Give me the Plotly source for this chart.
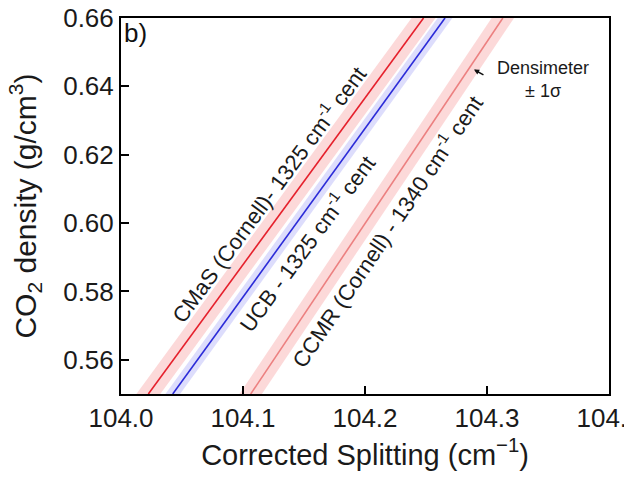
import plotly.graph_objects as go

# Density range spanned by each calibration line (g/cm^3)
density = [0.55, 0.66]

# Corrected splitting (cm^-1) at those densities, one line per instrument
split_cmas = [104.0224, 104.248]
split_ucb = [104.0424, 104.2656]
split_ccmr = [104.1063, 104.313]

# Densimeter +/- 1 sigma, expressed as a splitting offset (cm^-1)
sigma_cmas = 0.0098
sigma_ucb = 0.006
sigma_ccmr = 0.0092

x_ticks = [104.0, 104.1, 104.2, 104.3, 104.4]
y_ticks = [0.56, 0.58, 0.60, 0.62, 0.64, 0.66]

FONT = "Liberation Sans, Arial, sans-serif"

series = [
    ("CMaS", split_cmas, sigma_cmas, "#e5202c", "rgba(245,120,120,0.28)"),
    ("UCB", split_ucb, sigma_ucb, "#2b2bd8", "rgba(120,120,245,0.25)"),
    ("CCMR", split_ccmr, sigma_ccmr, "#ec8080", "rgba(245,120,120,0.28)"),
]

fig = go.Figure()

# shaded +/- 1 sigma bands first, then the centre lines on top
for name, xs, sig, line_col, band_col in series:
    upper = [v + sig for v in xs]
    lower = [v - sig for v in xs]
    fig.add_trace(go.Scatter(
        x=upper + lower[::-1],
        y=density + density[::-1],
        fill="toself", fillcolor=band_col,
        line=dict(width=0), mode="lines",
        hoverinfo="skip", showlegend=False,
    ))
for name, xs, sig, line_col, band_col in series:
    fig.add_trace(go.Scatter(
        x=xs, y=density, mode="lines", name=name,
        line=dict(color=line_col, width=1.6), showlegend=False,
    ))

label_font = dict(family=FONT, size=22, color="#1a1a1a")

annotations = [
    dict(x=104.1205, y=0.6084, text="CMaS (Cornell)- 1325 cm<sup>-1</sup> cent",
         textangle=-53.7, showarrow=False, font=label_font,
         xanchor="center", yanchor="middle"),
    dict(x=104.1516, y=0.5943, text="UCB - 1325 cm<sup>-1</sup> cent",
         textangle=-53.7, showarrow=False, font=label_font,
         xanchor="center", yanchor="middle"),
    dict(x=104.2172, y=0.5978, text="CCMR (Cornell) - 1340 cm<sup>-1</sup> cent",
         textangle=-56, showarrow=False, font=label_font,
         xanchor="center", yanchor="middle"),
    dict(x=104.3459, y=0.642, text="Densimeter<br>± 1σ", showarrow=False,
         font=dict(family=FONT, size=18, color="#1a1a1a"),
         xanchor="center", yanchor="middle", align="center"),
    dict(x=104.2893, y=0.6449, text="", showarrow=True, ax=11, ay=6,
         arrowhead=2, arrowsize=0.7, arrowwidth=1.5, arrowcolor="#111", standoff=0),
    dict(x=0, y=1, xref="paper", yref="paper", text="b)", showarrow=False,
         xanchor="left", yanchor="top", xshift=1, yshift=2,
         font=dict(family=FONT, size=26, color="#111")),
]

axis_common = dict(
    showgrid=False, zeroline=False, showline=True, linecolor="black",
    linewidth=2, mirror=True, ticks="inside", ticklen=8, tickwidth=2,
    tickcolor="black", automargin=False, ticklabeloverflow="allow",
    tickfont=dict(family=FONT, size=26, color="#1a1a1a"),
)

fig.update_layout(
    width=624, height=479,
    margin=dict(l=121, r=15, t=18, b=85),
    plot_bgcolor="white", paper_bgcolor="white",
    annotations=annotations,
    xaxis=dict(
        range=[104.0, 104.4], tickvals=x_ticks, tickformat=".1f",
        title=dict(text="Corrected Splitting (cm<sup>−1</sup>)", standoff=12,
                   font=dict(family=FONT, size=29, color="#1a1a1a")),
        **axis_common,
    ),
    yaxis=dict(
        range=[0.55, 0.66], tickvals=y_ticks, tickformat=".2f",
        title=dict(text="CO<sub>2</sub> density (g/cm<sup>3</sup>)", standoff=18,
                   font=dict(family=FONT, size=30, color="#1a1a1a")),
        **axis_common,
    ),
)

fig.write_html("out.html")
